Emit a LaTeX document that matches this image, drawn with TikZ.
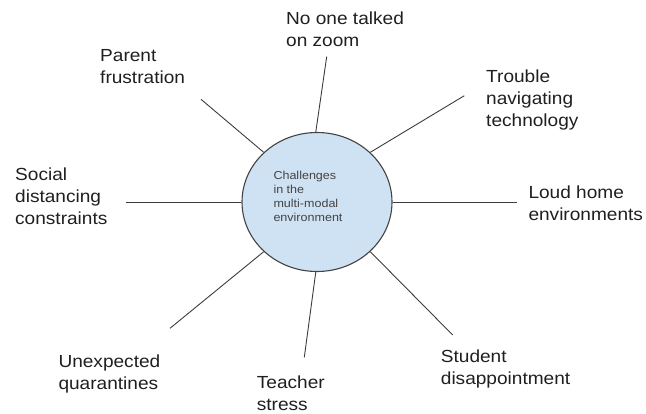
\documentclass[tikz,border=0pt]{standalone}
\usepackage{fontspec}
\setmainfont[FakeStretch=1.09]{Liberation Sans}
\usetikzlibrary{shapes.geometric}

\definecolor{hubfill}{HTML}{CFE2F3}
\definecolor{hubline}{HTML}{434343}
\definecolor{spokegray}{HTML}{3C3C3C}
\definecolor{labeltext}{HTML}{1F1F1F}

\begin{document}
\begin{tikzpicture}[
    x=1pt, y=-1pt,
    hub/.style={draw=hubline, line width=1.1pt, fill=hubfill, ellipse, minimum width=150pt, minimum height=139pt, inner sep=0pt},
    hubtext/.style={anchor=base west, inner sep=0pt, align=left, text=hubline, font=\fontsize{11.5}{14}\selectfont},
    challenge/.style={anchor=base west, inner sep=0pt, align=left, text=labeltext, font=\fontsize{17.5}{22}\selectfont},
    spoke/.style={draw=spokegray, line width=0.9pt},
]
    \useasboundingbox (0,0) rectangle (646,413);

    % Central topic
    \node[hub] (hub) at (317,202) {};
    \node[hubtext] (topic) at (273.3,221) {Challenges\\in the\\multi-modal\\environment};

    % Challenges around the hub (placed at last baseline)
    \node[challenge] (zoom) at (286,46) {No one talked\\on zoom};
    \node[challenge] (trouble) at (486,126.3) {Trouble\\navigating\\technology};
    \node[challenge] (loud) at (528.3,220.3) {Loud home\\environments};
    \node[challenge] (student) at (440.7,384.7) {Student\\disappointment};
    \node[challenge] (teacher) at (256.7,410) {Teacher\\stress};
    \node[challenge] (quarantine) at (58.3,389.7) {Unexpected\\quarantines};
    \node[challenge] (social) at (15,224) {Social\\distancing\\constraints};
    \node[challenge] (parent) at (100,83.7) {Parent\\frustration};

    % Free ends of the spokes
    \coordinate (zoomEnd) at (326.7,56.7);
    \coordinate (troubleEnd) at (464.3,95.7);
    \coordinate (loudEnd) at (517.3,202);
    \coordinate (studentEnd) at (452.7,335);
    \coordinate (teacherEnd) at (304.3,357.3);
    \coordinate (quarantineEnd) at (170,328.3);
    \coordinate (socialEnd) at (126,202);
    \coordinate (parentEnd) at (201,99.3);

    % Spokes
    \foreach \a/\e in {91/zoomEnd, 43/troubleEnd, 0/loudEnd, 317/studentEnd, 269/teacherEnd, 223/quarantineEnd, 180/socialEnd, 137/parentEnd}
        \draw[spoke] (hub.\a) -- (\e);
\end{tikzpicture}
\end{document}
